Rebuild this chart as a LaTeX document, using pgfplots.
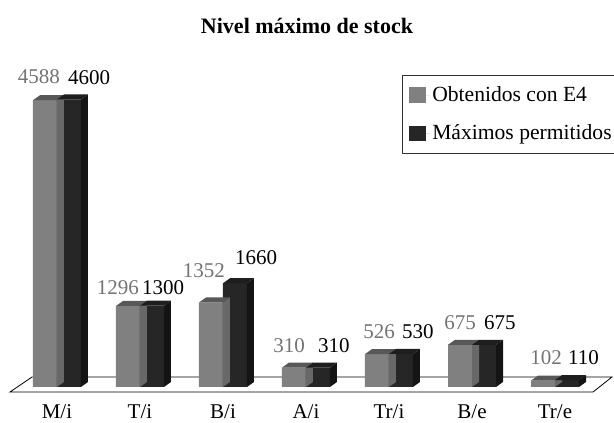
\documentclass[border=0pt]{standalone}
\usepackage{fontspec}
\setmainfont{Liberation Serif}
\usepackage{pgfplots}
\usepackage{pgfplotstable}
\pgfplotsset{compat=1.18}

\definecolor{obtfront}{HTML}{808080}
\definecolor{obttop}{HTML}{585858}
\definecolor{obtside}{HTML}{686868}
\definecolor{maxfront}{HTML}{262626}
\definecolor{maxtop}{HTML}{1E1E1E}
\definecolor{maxside}{HTML}{141414}

% 1 px of the reference = 1pt here; y unit = 0.0625pt per stock unit
\def\yunit{0.0625}

% top and side faces of the fake 3D bars, drawn at the top centre of each column
\pgfdeclareplotmark{obtcube}{%
  \pgfmathsetlengthmacro\hh{\rawy*\yunit}%
  \pgfsetfillcolor{obtside}%
  \pgfpathmoveto{\pgfqpoint{0pt}{0pt}}%
  \pgfpathlineto{\pgfqpoint{7pt}{5pt}}%
  \pgfpathlineto{\pgfpoint{7pt}{5pt-\hh}}%
  \pgfpathlineto{\pgfpoint{0pt}{-\hh}}%
  \pgfpathclose\pgfusepath{fill}%
  \pgfsetfillcolor{obttop}%
  \pgfpathmoveto{\pgfqpoint{-24pt}{0pt}}%
  \pgfpathlineto{\pgfqpoint{0pt}{0pt}}%
  \pgfpathlineto{\pgfqpoint{7pt}{5pt}}%
  \pgfpathlineto{\pgfqpoint{-17pt}{5pt}}%
  \pgfpathclose\pgfusepath{fill}%
}
\pgfdeclareplotmark{maxcube}{%
  \pgfmathsetlengthmacro\hh{\rawy*\yunit}%
  \pgfsetfillcolor{maxside}%
  \pgfpathmoveto{\pgfqpoint{24pt}{0pt}}%
  \pgfpathlineto{\pgfqpoint{31pt}{5pt}}%
  \pgfpathlineto{\pgfpoint{31pt}{5pt-\hh}}%
  \pgfpathlineto{\pgfpoint{24pt}{-\hh}}%
  \pgfpathclose\pgfusepath{fill}%
  \pgfsetfillcolor{maxtop}%
  \pgfpathmoveto{\pgfqpoint{0pt}{0pt}}%
  \pgfpathlineto{\pgfqpoint{24pt}{0pt}}%
  \pgfpathlineto{\pgfqpoint{31pt}{5pt}}%
  \pgfpathlineto{\pgfqpoint{7pt}{5pt}}%
  \pgfpathclose\pgfusepath{fill}%
}

% odx/ody, mdx/mdy: where the value labels sit (pt), as in the original layout
\pgfplotstableread{
idx obt max odx ody mdx mdy
0 4588 4600 3 16 11 15
1 1296 1300 -1 11 2 11
2 1352 1660 2 25 12 18
3 310 310 -1 15 12 15
4 526 530 6 15 13 15
5 675 675 4 15 12 15
6 102 110 7 16 13 15
}\stock

\begin{document}
\fontsize{21}{25}\selectfont
\begin{tikzpicture}
\begin{axis}[
  at={(0pt,0pt)}, anchor=south west,
  scale only axis, width=614pt, height=423pt,
  xmin=-0.6867, xmax=6.7108,
  ymin=-576, ymax=6192,
  clip=false,
  axis line style={draw=none},
  ytick=\empty,
  xtick={0,...,6},
  xticklabels={M/i,T/i,B/i,A/i,Tr/i,B/e,Tr/e},
  major tick length=0pt,
  xticklabel style={anchor=base, yshift=4pt},
  title={Nivel máximo de stock},
  title style={at={(axis description cs:0.5,0.906)}, anchor=base, font=\bfseries\fontsize{22}{26}\selectfont},
  legend style={at={(axis description cs:0.6547,0.8227)}, anchor=north west,
    draw=black!80, line width=0.6pt, inner xsep=7pt, inner ysep=9pt, row sep=16pt,
    font=\fontsize{21.6}{25}\selectfont,
    /tikz/every even column/.append style={column sep=1pt}},
  legend cell align=left,
  legend image code/.code={\fill[#1,draw=none] (0pt,-7.5pt) rectangle (17pt,8pt); \path (17pt,0) -- (21pt,0);},
  /pgf/number format/.cd, fixed, precision=0, 1000 sep={}, assume math mode=true,
]
% floor of the 3D chart
\draw[black, line width=0.8pt] (axis cs:-0.566,-80) -- (axis cs:6.458,-80)
  -- (axis cs:6.687,160) -- (axis cs:-0.301,160) -- cycle;

\addplot[ybar, bar width=24pt, bar shift=-12pt, fill=obtfront, draw=none,
  nodes near coords,
  visualization depends on={\thisrow{odx} \as \ldx},
  visualization depends on={\thisrow{ody} \as \ldy},
  every node near coord/.append style={anchor=south east, inner sep=0pt,
    xshift=\ldx pt, yshift=\ldy pt, text=black!55}]
  table[x=idx, y=obt]{\stock};
\addlegendentry{Obtenidos con E4}
\addplot[only marks, scatter, mark=obtcube, forget plot,
  visualization depends on={rawy \as \rawy}]
  table[x=idx, y=obt]{\stock};

\addplot[ybar, bar width=24pt, bar shift=12pt, fill=maxfront, draw=none,
  nodes near coords,
  visualization depends on={\thisrow{mdx} \as \ldx},
  visualization depends on={\thisrow{mdy} \as \ldy},
  every node near coord/.append style={anchor=south west, inner sep=0pt,
    xshift=\ldx pt, yshift=\ldy pt, text=black}]
  table[x=idx, y=max]{\stock};
\addlegendentry{Máximos permitidos}
\addplot[only marks, scatter, mark=maxcube, forget plot,
  visualization depends on={rawy \as \rawy}]
  table[x=idx, y=max]{\stock};
\end{axis}
\pgfresetboundingbox
\path[use as bounding box] (0pt,0pt) rectangle (614pt,423pt);
\end{tikzpicture}
\end{document}
